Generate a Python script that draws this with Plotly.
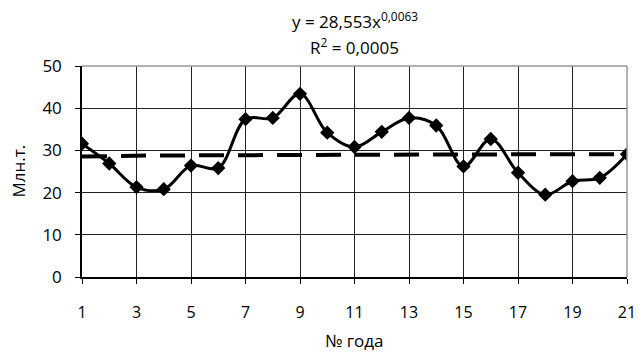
import plotly.graph_objects as go

years = list(range(1, 22))
values = [31.6, 26.9, 21.3, 20.8, 26.4, 25.8, 37.4, 37.7, 43.4, 34.2, 30.8,
          34.4, 37.7, 35.9, 26.2, 32.7, 24.7, 19.5, 22.7, 23.5, 29.1]
trend_a = 28.553
trend_b = 0.0063
trend_x = [1 + i * 0.1 for i in range(201)]
trend_y = [trend_a * x ** trend_b for x in trend_x]

font = "Open Sans"
fig = go.Figure()
fig.add_trace(go.Scatter(x=trend_x, y=trend_y, mode="lines",
                         line=dict(color="black", width=4, dash="25px,14px"),
                         hoverinfo="skip"))
fig.add_trace(go.Scatter(x=years, y=values, mode="lines+markers",
                         line=dict(color="black", width=3, shape="spline", smoothing=1),
                         marker=dict(symbol="diamond", size=11, color="black")))

fig.update_layout(
    width=639, height=352,
    margin=dict(l=82, r=12, t=66, b=75),
    paper_bgcolor="white", plot_bgcolor="white",
    showlegend=False,
    font=dict(family=font, color="black", size=16),
    xaxis=dict(range=[1, 21], tickmode="array", tickvals=list(range(1, 22, 2)),
               showgrid=True, gridcolor="#222222", gridwidth=1,
               showline=True, linecolor="black", linewidth=1.5,
               ticks="outside", ticklen=5, tickcolor="black",
               ticklabelstandoff=15, tickfont=dict(size=16),
               automargin=False, zeroline=False, mirror=False),
    yaxis=dict(range=[0, 50], dtick=10, showgrid=True, gridcolor="#222222", gridwidth=1,
               showline=True, linecolor="black", linewidth=1.5,
               ticks="outside", ticklen=5, tickcolor="black",
               ticklabelstandoff=10, tickfont=dict(size=17),
               automargin=False, zeroline=False),
    shapes=[
        dict(type="line", xref="paper", yref="paper", x0=0, x1=1, y0=1, y1=1,
             line=dict(color="#999999", width=1.5)),
        dict(type="line", xref="paper", yref="paper", x0=1, x1=1, y0=0, y1=1,
             line=dict(color="#999999", width=1.5)),
    ],
    annotations=[
        dict(xref="paper", yref="paper", x=0.5, y=1, yshift=46, yanchor="middle",
             showarrow=False, text="y = 28,553x<sup>0,0063</sup>", font=dict(size=17)),
        dict(xref="paper", yref="paper", x=0.5, y=1, yshift=20, yanchor="middle",
             showarrow=False, text="R<sup>2</sup> = 0,0005", font=dict(size=17)),
        dict(xref="paper", yref="paper", x=0.5, y=0, yshift=-63, yanchor="middle",
             showarrow=False, text="№ года", font=dict(size=17)),
        dict(xref="paper", yref="paper", x=0, y=0.5, xshift=-64, xanchor="center",
             yanchor="middle", textangle=-90,
             showarrow=False, text="Млн.т.", font=dict(size=17)),
    ],
)
fig.write_html("out.html")
